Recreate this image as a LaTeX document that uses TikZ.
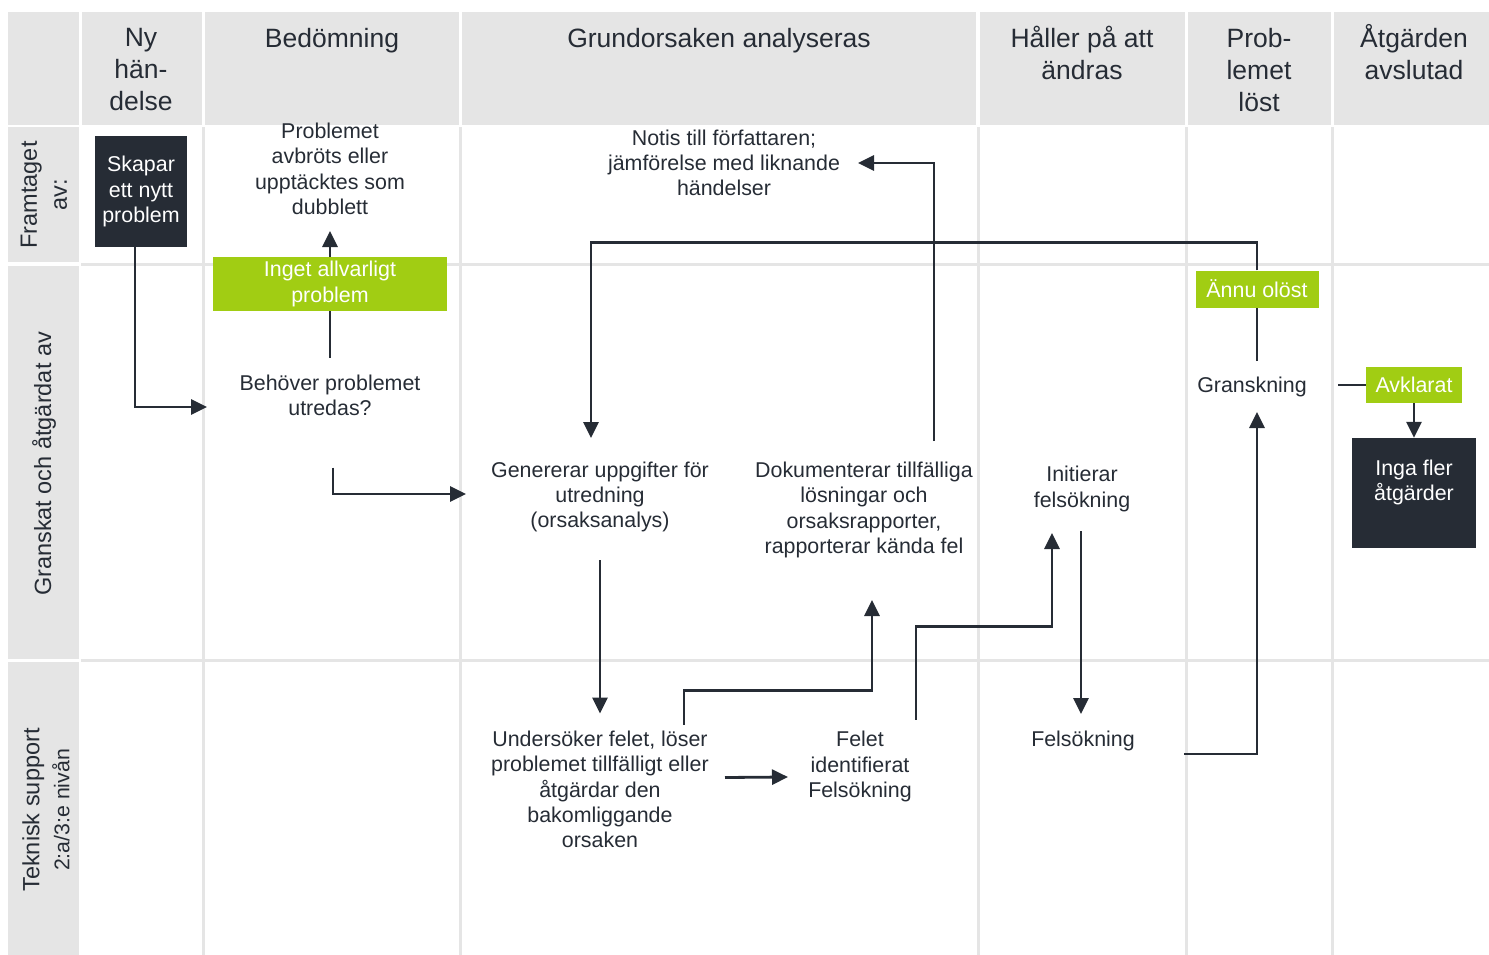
\documentclass[tikz,border=0pt]{standalone}
\usepackage{fontspec}
\setmainfont{Liberation Sans}
\usetikzlibrary{positioning,arrows.meta,calc}
\definecolor{inkdark}{RGB}{38,44,53}
\definecolor{okgreen}{RGB}{161,205,19}
\definecolor{lanegrey}{RGB}{229,229,229}

\begin{document}
\begin{tikzpicture}[x=1pt,y=-1pt, every node/.style={align=center, text=inkdark, inner sep=0pt},
  body/.style={font=\fontsize{21.4}{25.3}\selectfont},
  head/.style={font=\fontsize{26.5}{32}\selectfont, anchor=north},
  lane/.style={font=\fontsize{23.5}{30}\selectfont, rotate=90},
  darkbox/.style={body, fill=inkdark, text=white},
  greenbox/.style={body, fill=okgreen, text=white},
  link/.style={line width=2.8pt, draw=inkdark},
  arr/.style={link, -{Triangle[length=16pt,width=15pt]}},
  gridline/.style={line width=3pt, draw=lanegrey}]
  \useasboundingbox (0,0) rectangle (1489,955);
  \fill[lanegrey] (8,12) rectangle (79,125);
  \fill[lanegrey] (82,12) rectangle (202,125);
  \fill[lanegrey] (205,12) rectangle (459,125);
  \fill[lanegrey] (462,12) rectangle (976,125);
  \fill[lanegrey] (980,12) rectangle (1185,125);
  \fill[lanegrey] (1188,12) rectangle (1331,125);
  \fill[lanegrey] (1334,12) rectangle (1489,125);
  \fill[lanegrey] (8,127) rectangle (79,262);
  \fill[lanegrey] (8,266) rectangle (79,659);
  \fill[lanegrey] (8,662) rectangle (79,955);
  \draw[gridline] (203.5,127) -- (203.5,955);
  \draw[gridline] (460.5,127) -- (460.5,955);
  \draw[gridline] (978,127) -- (978,955);
  \draw[gridline] (1186.5,127) -- (1186.5,955);
  \draw[gridline] (1332.5,127) -- (1332.5,955);
  \draw[gridline] (81,264) -- (1489,264);
  \draw[gridline] (81,660.5) -- (1489,660.5);

  \node[head] (hNy) at (141,28) {Ny\\hän-\\delse};
  \node[head] (hBed) at (332,28) {Bedömning};
  \node[head] (hGrund) at (719,28) {Grundorsaken analyseras};
  \node[head] (hAndras) at (1082,26) {Håller på att\\ändras};
  \node[head] (hLost) at (1259,28) {Prob-\\lemet\\löst};
  \node[head] (hAvsl) at (1414,24) {Åtgärden\\avslutad};
  \node[lane] (lFram) at (44,195) {Framtaget\\av:};
  \node[lane] (lGransk) at (44,464) {Granskat och åtgärdat av};
  \node[lane] (lTeknisk) at (46,810) {Teknisk support\\{\fontsize{21.3}{28}\selectfont 2:a/3:e nivån}};

  \node[darkbox, minimum width=92, minimum height=111] (skapar) at (141,191.5) {Skapar\\ett nytt\\problem};
  \node[body] (dubblett) at (330,169) {Problemet\\avbröts eller\\upptäcktes som\\dubblett};
  \node[greenbox, minimum width=234, minimum height=54] (inget) at (330,284) {Inget allvarligt\\problem};
  \node[body] (behover) at (330,395.5) {Behöver problemet\\utredas?};
  \node[body] (notis) at (724,163) {Notis till författaren;\\jämförelse med liknande\\händelser};
  \node[body] (genererar) at (600,497) {Genererar uppgifter för\\utredning\\(orsaksanalys)};
  \node[body] (dokumenterar) at (864,510) {Dokumenterar tillfälliga\\lösningar och\\orsaksrapporter,\\rapporterar kända fel};
  \node[body] (initierar) at (1082,489) {Initierar\\felsökning};
  \node[body] (undersoker) at (600,789.5) {Undersöker felet, löser\\problemet tillfälligt eller\\åtgärdar den\\bakomliggande\\orsaken};
  \node[body] (felet) at (860,766.5) {Felet\\identifierat\\Felsökning};
  \node[body] (felsokning) at (1083,741) {Felsökning};
  \node[greenbox, minimum width=123, minimum height=37] (annu) at (1257,289) {Ännu olöst};
  \node[body] (gransk) at (1252,387) {Granskning};
  \node[greenbox, minimum width=96, minimum height=36] (avklarat) at (1414,385) {Avklarat};
  \node[darkbox, minimum width=124, minimum height=110] (inga) at (1414,493) {Inga fler\\åtgärder\\\mbox{}};

  \draw[arr] ($(skapar.south)+(-6,0)$) |- ($(behover)+(-123,11.5)$);
  \draw[link] ($(behover)+(0,-38)$) -- (inget.south);
  \draw[arr] (inget.north) -- ($(dubblett)+(0,62)$);
  \draw[arr] ($(behover)+(3,72)$) |- ($(genererar)+(-134,-3)$);
  \draw[arr] ($(genererar)+(0,63)$) -- ($(undersoker)+(0,-76)$);
  \draw[arr] ($(undersoker)+(125,-12)$) -- ($(felet)+(-72,10.5)$);
  \draw[arr] ($(undersoker)+(84,-65)$) -- ++(0,-34) -| ($(dokumenterar)+(8,90)$);
  \draw[arr] ($(felet)+(56,-47)$) -- ++(0,-93) -| ($(initierar)+(-30,44)$);
  \draw[arr] ($(dokumenterar)+(70,-69)$) |- ($(notis)+(134,0)$);
  \draw[arr] ($(initierar)+(-1,42)$) -- ($(felsokning)+(-2,-27)$);
  \draw[arr] ($(felsokning)+(101,13)$) -| ($(gransk)+(5,25)$);
  \draw[draw=inkdark, line width=1.3pt] ($(gransk)+(5,-26)$) -- (annu.south);
  \draw[arr] (annu.north) -- ++(0,-28) -| ($(genererar)+(-9,-59)$);
  \draw[link] ($(gransk)+(86,-2)$) -- (avklarat.west);
  \draw[arr] (avklarat.south) -- (inga.north);
\end{tikzpicture}
\end{document}
